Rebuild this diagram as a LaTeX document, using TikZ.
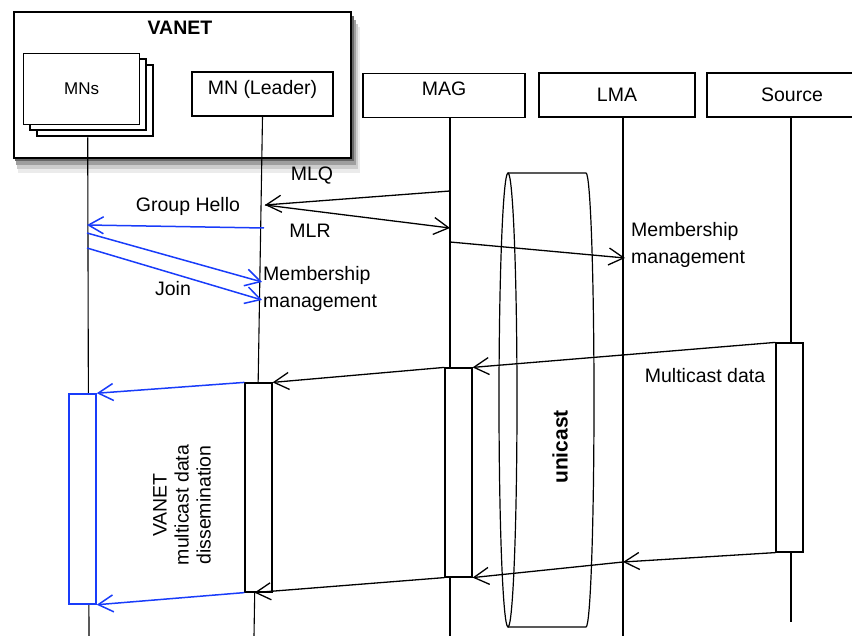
\documentclass[tikz,border=0pt]{standalone}
\usepackage{fontspec}
\setmainfont{Liberation Sans}
\usetikzlibrary{arrows.meta}
\definecolor{vblue}{RGB}{25,60,250}

\begin{document}
\begin{tikzpicture}[x=1pt,y=-1pt,font=\fontsize{19.5}{22}\selectfont,inner sep=2pt,
  lane/.style={draw,fill=white,line width=1.2pt,minimum height=44},
  hi/.style={text height=14pt,text depth=13pt},
  actbox/.style={draw,fill=white,line width=1.2pt,minimum width=27,minimum height=209,inner sep=0pt},
  life/.style={line width=1.1pt},
  msg/.style={line width=1.3pt,-{Straight Barb[length=15pt,width=17pt]}},
  bmsg/.style={msg,draw=vblue,line width=1.5pt},
  twoline/.style={align=left,anchor=west,font=\fontsize{19.5}{27}\selectfont}]
\useasboundingbox (0,0) rectangle (852,636);
% soft shadow under the VANET group
\fill[black!8] (18,27) rectangle (360,173);
\fill[black!20] (17,24) rectangle (358,169);
\fill[black!38] (16,20) rectangle (356,165);
\fill[black!60] (15,16) rectangle (354,161);
% VANET group with its two heads
\node[draw,line width=2pt,fill=white,minimum width=337,minimum height=146,anchor=north west] (vanet) at (13,11) {};
\node[font=\fontsize{19.5}{22}\selectfont\bfseries] (vanetlbl) at (180,28) {VANET};
\foreach \d in {14,7}
  \draw[fill=white,line width=1.4pt] (23+\d,53+\d*.85) rectangle +(116,71);
\node[draw,fill=white,line width=1.4pt,minimum width=116,minimum height=71,anchor=north west,font=\fontsize{17}{20}\selectfont] (mns) at (23,53) {MNs};
\node[lane,hi,minimum width=141] (leader) at (262.5,94) {MN (Leader)};
% other heads
\node[lane,hi,minimum width=162] (mag) at (444,95.5) {MAG};
\node[lane,minimum width=156] (lma) at (617,95) {LMA};
\node[lane,minimum width=170] (src) at (792,95) {Source};
% lifelines
\foreach \n/\x in {mnsend/89,leaderend/254,magend/450,lmaend/623} \coordinate (\n) at (\x,636);
\coordinate (srcend) at (791,622);
\draw[life] ([xshift=6,yshift=-12]mns.south) -- (mnsend);
\draw[life] (leader.south) -- (leaderend);
\draw[life] ([xshift=6]mag.south) -- (magend);
\draw[life] ([xshift=6]lma.south) -- (lmaend);
\draw[life] ([xshift=-1]src.south) -- (srcend);
% unicast tube
\draw[line width=1.2pt] (508,400) ellipse [x radius=9,y radius=227];
\draw[line width=1.2pt] (508,173) -- (586,173) arc [start angle=-90,end angle=90,x radius=8,y radius=227] -- (508,627);
\node[rotate=90,font=\fontsize{21}{24}\selectfont\bfseries] (uni) at (560,447) {unicast};
% activations
\node[actbox] (leadact) at (258.5,487.5) {};
\node[actbox] (magact) at (458.5,472.5) {};
\node[actbox] (srcact) at (789.5,447.5) {};
\node[actbox,draw=vblue,line width=1.5pt,minimum height=210] (mnact) at (82.5,499) {};
% messages
\foreach \n/\x/\y in {q1/450/191,q2/265/205,r2/450/228,h1/264/228,h2/87/225,j1/87/233,j2/262/282,k1/87/248,k2/262/300,m1/450/242,m2/625/258,l1/623/562}
  \coordinate (\n) at (\x,\y);
\draw[msg] (q1) -- (q2);
\draw[msg] (q2) -- (r2);
\draw[bmsg] (h1) -- (h2);
\draw[bmsg] (j1) -- (j2);
\draw[bmsg] (k1) -- (k2);
\draw[msg] (m1) -- (m2);
\draw[msg] (srcact.north west) -- (magact.north east);
\draw[msg] (magact.north west) -- (leadact.north east);
\draw[bmsg] (leadact.north west) -- (mnact.north east);
\draw[msg] (srcact.south west) -- (l1);
\draw[msg] (l1) -- (magact.south east);
\draw[msg] (magact.south west) -- ([xshift=-4]leadact.south);
\draw[bmsg] (leadact.south west) -- (mnact.south east);
% labels
\node (mlq) at (312,176) {MLQ};
\node (mlr) at (310,231) {MLR};
\node (hello) at (188,206) {Group Hello};
\node (join) at (173,289) {Join};
\node[twoline] (mmleader) at (261,289) {Membership\\management};
\node[twoline] (mmlma) at (629,245) {Membership\\management};
\node (mdata) at (705,376) {Multicast data};
\node[rotate=90,align=center] (vdiss) at (182,505) {VANET\\multicast data\\dissemination};
\end{tikzpicture}
\end{document}
